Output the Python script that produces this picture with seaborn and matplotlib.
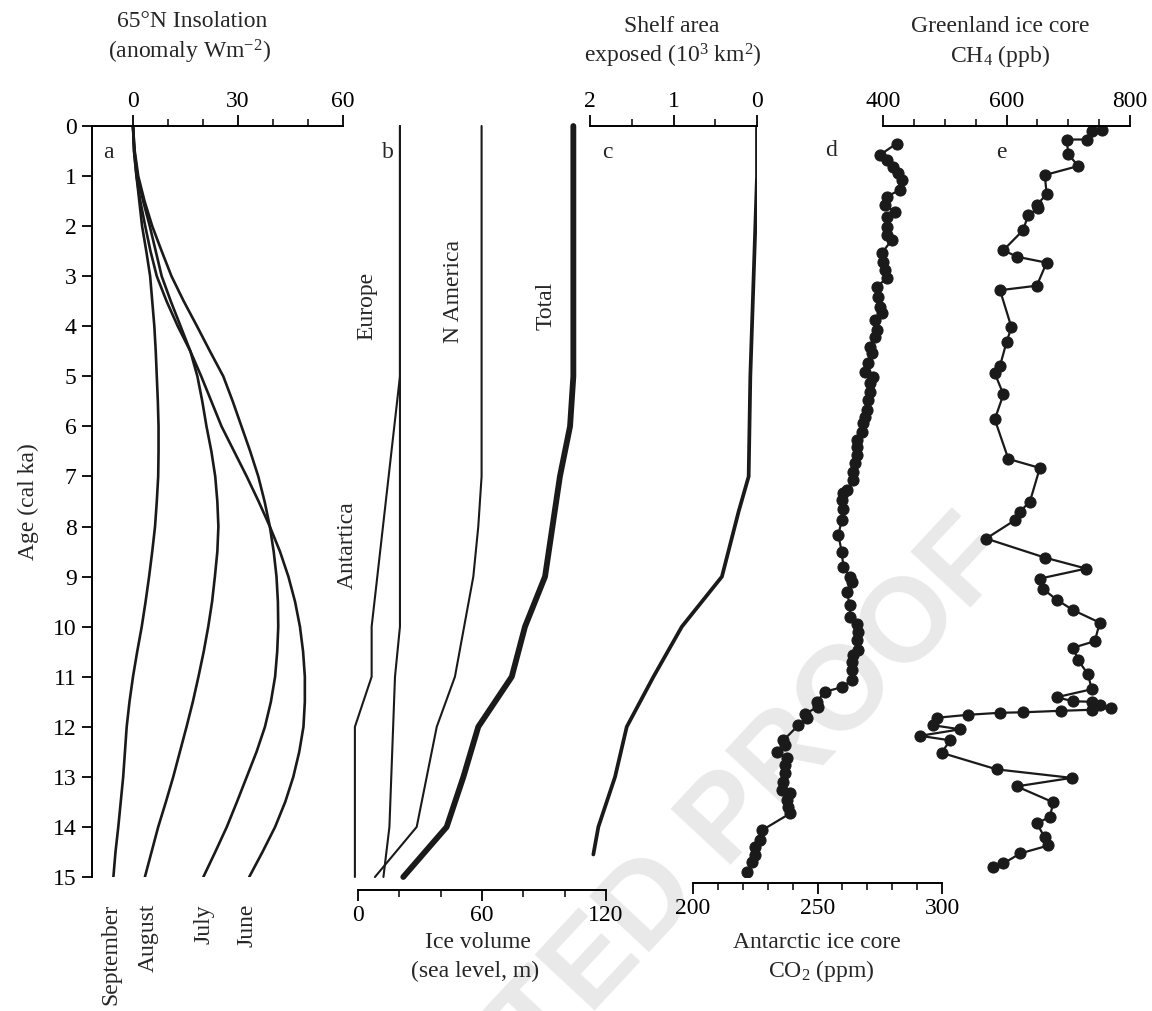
import matplotlib
matplotlib.use('Agg')
import matplotlib.pyplot as plt
import seaborn as sns
from matplotlib.ticker import FixedLocator

# ---- data ----
# panel a: 65N insolation anomaly (W m-2), every 0.5 ka
insol_age = [0, 0.5, 1, 1.5, 2, 2.5, 3, 3.5, 4, 4.5, 5, 5.5, 6, 6.5, 7, 7.5, 8, 8.5, 9, 9.5,
             10, 10.5, 11, 11.5, 12, 12.5, 13, 13.5, 14, 14.5, 15]
june = [0, 0.3, 1.0, 2.1, 3.5, 5.0, 6.8, 9.6, 12.8, 16.4, 19.5, 22.4, 25.3, 28.9, 32.5, 35.9,
        39.1, 42.0, 44.4, 46.3, 47.7, 48.6, 49.1, 49.1, 48.7, 47.5, 45.8, 43.5, 40.6, 37.0, 33.2]
july = [0, 0.5, 1.5, 3.3, 5.5, 8.2, 11.0, 14.5, 18.3, 22.0, 25.8, 28.5, 31.0, 33.5, 35.8, 37.6,
        39.1, 40.2, 41.0, 41.4, 41.5, 41.2, 40.6, 39.4, 37.7, 35.3, 32.5, 29.7, 26.8, 23.5, 20.1]
august = [0, 0.4, 1.3, 2.9, 4.8, 6.5, 8.2, 10.8, 13.6, 16.4, 18.4, 19.8, 21.0, 22.4, 23.5, 24.1,
          24.4, 24.1, 23.4, 22.6, 21.5, 20.2, 18.7, 17.1, 15.3, 13.4, 11.5, 9.4, 7.2, 5.3, 3.4]
september = [0, 0.3, 1.0, 1.8, 2.6, 3.8, 4.9, 5.5, 6.1, 6.5, 6.8, 7.1, 7.3, 7.3, 7.2, 6.8,
             6.3, 5.5, 4.6, 3.6, 2.5, 1.2, 0.0, -1.0, -1.8, -2.3, -2.8, -3.5, -4.2, -5.0, -5.6]
months = ['June', 'July', 'August', 'September']

# panel b: ice volume (sea level, m)
antarctica_age = [0, 5, 10, 11, 12, 15]
antarctica_vol = [20.3, 20.3, 6.6, 6.6, -1.5, -1.5]
europe_age = [0, 10, 11, 14, 15]
europe_vol = [20.3, 20.3, 17.9, 15.2, 12.3]
namerica_age = [0, 7, 8, 9, 11, 12, 14, 15]
namerica_vol = [59.8, 59.8, 58.2, 55.8, 46.9, 38.1, 28.4, 8.2]
total_age = [0, 5, 6, 7, 9, 10, 11, 12, 13, 14, 15]
total_vol = [104.2, 104.2, 102.6, 97.7, 90.5, 80.8, 74.4, 58.2, 51.0, 42.9, 21.9]

# panel c: shelf area exposed (10^3 km2)
shelf_age = [0, 1, 3, 5, 7, 7.7, 9, 10, 11, 12, 13, 14, 14.55]
shelf_area = [0, 0, 0.04, 0.08, 0.1, 0.22, 0.42, 0.9, 1.24, 1.56, 1.7, 1.9, 1.96]

# panel d: Antarctic CO2 (ppm)
co2_age = [0.35, 0.58, 0.68, 0.81, 0.94, 1.08, 1.28, 1.41, 1.58, 1.71, 1.81, 2.01, 2.18, 2.28,
           2.54, 2.71, 2.88, 3.04, 3.21, 3.41, 3.61, 3.74, 3.88, 4.08, 4.21, 4.41, 4.54, 4.74,
           4.91, 5.01, 5.14, 5.31, 5.47, 5.67, 5.81, 5.94, 6.11, 6.27, 6.41, 6.57, 6.74, 6.91,
           7.07, 7.27, 7.34, 7.47, 7.64, 7.87, 8.17, 8.5, 8.8, 9.0, 9.1, 9.3, 9.57, 9.8, 9.94,
           10.1, 10.27, 10.47, 10.57, 10.7, 10.87, 11.07, 11.21, 11.3, 11.5, 11.6, 11.74, 11.83,
           11.97, 12.27, 12.37, 12.5, 12.63, 12.77, 12.93, 13.1, 13.27, 13.33, 13.47, 13.6, 13.73,
           14.07, 14.27, 14.4, 14.57, 14.7, 14.9]
co2_ppm = [281.8, 275.0, 277.8, 280.4, 282.4, 283.8, 283.0, 277.8, 277.0, 281.0, 277.8, 278.0,
           277.8, 279.8, 275.8, 276.4, 277.0, 277.8, 273.8, 274.3, 275.0, 275.8, 273.0, 273.8,
           273.0, 271.0, 271.8, 270.4, 269.0, 272.4, 271.0, 271.0, 270.4, 269.8, 269.0, 268.4,
           267.8, 265.8, 265.8, 265.8, 265.0, 264.4, 264.4, 261.7, 260.4, 259.7, 260.4, 259.7,
           258.4, 259.7, 260.4, 263.0, 263.7, 261.7, 263.0, 263.0, 265.8, 266.4, 265.8, 266.4,
           264.4, 263.7, 263.7, 263.7, 259.7, 253.0, 249.7, 250.3, 245.0, 245.7, 242.3, 236.3,
           237.0, 233.6, 237.6, 237.0, 237.0, 236.3, 235.6, 239.0, 237.6, 238.3, 239.0, 227.6,
           226.9, 224.9, 224.9, 223.6, 221.6]

# panel e: Greenland CH4 (ppb)
ch4_age = [0.08, 0.09, 0.27, 0.27, 0.56, 0.8, 0.98, 1.36, 1.58, 1.64, 1.78, 2.08, 2.48, 2.61,
           2.73, 3.19, 3.28, 4.02, 4.32, 4.79, 4.94, 5.36, 5.86, 6.65, 6.83, 7.5, 7.7, 7.87,
           8.24, 8.62, 8.84, 9.04, 9.24, 9.46, 9.67, 9.92, 10.29, 10.42, 10.67, 10.95, 11.25,
           11.41, 11.49, 11.5, 11.56, 11.62, 11.66, 11.68, 11.71, 11.72, 11.76, 11.82, 11.97,
           12.05, 12.18, 12.27, 12.52, 12.85, 13.02, 13.19, 13.51, 13.8, 13.93, 14.21, 14.37,
           14.53, 14.73, 14.8]
ch4_ppb = [754, 738, 730, 697.5, 700, 716, 662, 665, 649, 651.5, 635, 627, 595, 616.5, 665,
           649, 589.5, 608, 600, 589.5, 581, 595, 581, 603, 654, 638, 622, 614, 567, 662, 729,
           654, 658.6, 681, 708, 751, 743, 708, 716, 732, 738, 681, 708, 738, 751, 770, 738,
           689, 627, 589.5, 538, 487, 481.5, 525, 460, 508.5, 495, 584, 705.6, 616.5, 676, 670,
           649, 662, 668, 622, 595, 578]

# ---- figure ----
W, H = 1152, 1011
sns.set_theme(style='ticks')
plt.rcParams['font.family'] = ['Liberation Serif', 'DejaVu Serif']
plt.rcParams['mathtext.fontset'] = 'custom'
plt.rcParams['mathtext.rm'] = 'Liberation Serif'
plt.rcParams['mathtext.it'] = 'Liberation Serif:italic'
FS = 17
INK = '#1a1a1a'


def box(x0, x1, y0=126, y1=877):
    return [x0 / W, 1 - y1 / H, (x1 - x0) / W, (y1 - y0) / H]


def fx(x):
    return x / W


def fy(y):
    return 1 - y / H


def style(ax, side, major, minor, pad):
    for s in ['top', 'bottom', 'left', 'right']:
        ax.spines[s].set_visible(s == side)
    ax.spines[side].set_linewidth(1.4)
    ax.spines[side].set_color('black')
    ax.patch.set_visible(False)
    if side == 'top':
        ax.xaxis.tick_top()
    else:
        ax.xaxis.tick_bottom()
    ax.xaxis.set_major_locator(FixedLocator(major))
    ax.xaxis.set_minor_locator(FixedLocator(minor))
    ax.tick_params(axis='x', which='major', direction='out', length=8, width=1.3,
                   labelsize=FS, pad=pad, colors='black')
    ax.tick_params(axis='x', which='minor', direction='out', length=5, width=1.1, colors='black')
    ax.set_ylim(15, 0)
    ax.set_xlabel('')
    ax.set_ylabel('')
    if ax is not ax_a:
        ax.yaxis.set_visible(False)


fig = plt.figure(figsize=(W / 100, H / 100), dpi=100)
# proof watermark behind everything
fig.text(fx(1015), fy(560), 'UNCORRECTED PROOF', fontsize=86, color='#e9e9e9',
         family='Liberation Sans', weight='bold', rotation=47, rotation_mode='anchor',
         ha='right', va='baseline', zorder=-5)

ax_a = fig.add_axes(box(92, 343))
ax_b = fig.add_axes(box(358, 606))
ax_c = fig.add_axes(box(590, 757))
ax_d = fig.add_axes(box(693, 942))
ax_e = fig.add_axes(box(883, 1130))

# a: insolation
for vals in [june, july, august, september]:
    sns.lineplot(x=vals, y=insol_age, sort=False, estimator=None, color=INK, lw=1.9, ax=ax_a)
ax_a.set_xlim(-11.71, 60)
style(ax_a, 'top', [0, 30, 60], [10, 20, 40, 50], 2)
ax_a.spines['left'].set_visible(True)
ax_a.spines['left'].set_linewidth(1.4)
ax_a.spines['left'].set_color('black')
ax_a.yaxis.set_major_locator(FixedLocator(range(16)))
ax_a.tick_params(axis='y', direction='out', length=7, width=1.3, labelsize=FS, pad=4, colors='black')
ax_a.set_ylabel('Age (cal ka)', fontsize=FS, labelpad=10)
for name, xpix in zip(months, [247, 204, 148, 111]):
    fig.text(fx(xpix), fy(904), name, rotation=90, ha='center', va='top', fontsize=FS)
ax_a.text(0.045, 0.965, 'a', transform=ax_a.transAxes, fontsize=FS, va='center')

# b: ice volume
for vol, age, lw in [(antarctica_vol, antarctica_age, 1.5), (europe_vol, europe_age, 1.5),
                     (namerica_vol, namerica_age, 1.5), (total_vol, total_age, 4.2)]:
    sns.lineplot(x=vol, y=age, sort=False, estimator=None, color=INK, lw=lw, clip_on=False, ax=ax_b)
ax_b.set_xlim(0, 120)
style(ax_b, 'bottom', [0, 60, 120], [20, 40, 80, 100], 3)
ax_b.spines['bottom'].set_position(('outward', 9))
for lab, xv, yv in [('Antartica', -5.3, 8.37), ('Europe', 4.4, 3.6),
                    ('N America', 46, 3.3), ('Total', 91, 3.6)]:
    ax_b.text(xv, yv, lab, rotation=90, ha='center', va='center', fontsize=FS, clip_on=False)
ax_b.text(0.095, 0.965, 'b', transform=ax_b.transAxes, fontsize=FS, va='center')

# c: shelf area
sns.lineplot(x=shelf_area, y=shelf_age, sort=False, estimator=None, color=INK, lw=2.7, ax=ax_c)
ax_c.set_xlim(2, 0)
style(ax_c, 'top', [2, 1, 0], [1.5, 0.5], 2)
ax_c.text(0.075, 0.965, 'c', transform=ax_c.transAxes, fontsize=FS, va='center')

# d: CO2
sns.lineplot(x=co2_ppm, y=co2_age, sort=False, estimator=None, color=INK, lw=1.6,
             marker='o', markersize=8, markeredgecolor=INK, ax=ax_d)
ax_d.set_xlim(200, 300)
style(ax_d, 'bottom', [200, 250, 300], [210, 220, 230, 240, 260, 270, 280, 290], 3)
ax_d.spines['bottom'].set_position(('outward', 4))
fig.text(fx(825), fy(150), 'd', fontsize=FS, va='center')

# e: CH4
sns.lineplot(x=ch4_ppb, y=ch4_age, sort=False, estimator=None, color=INK, lw=1.6,
             marker='o', markersize=8, markeredgecolor=INK, ax=ax_e)
ax_e.set_xlim(400, 800)
style(ax_e, 'top', [400, 600, 800], [450, 500, 550, 650, 700, 750], 2)
ax_e.text(0.46, 0.965, 'e', transform=ax_e.transAxes, fontsize=FS, va='center')

# axis titles
fig.text(fx(192), fy(27), '65°N Insolation', fontsize=FS, ha='center', va='baseline')
fig.text(fx(190), fy(58), '(anomaly Wm$^{-2}$)', fontsize=FS, ha='center', va='baseline')
fig.text(fx(672), fy(32), 'Shelf area', fontsize=FS, ha='center', va='baseline')
fig.text(fx(673), fy(63), 'exposed (10$^{3}$ km$^{2}$)', fontsize=FS, ha='center', va='baseline')
fig.text(fx(1000), fy(32), 'Greenland ice core', fontsize=FS, ha='center', va='baseline')
fig.text(fx(1000), fy(62), 'CH$_{4}$ (ppb)', fontsize=FS, ha='center', va='baseline')
fig.text(fx(478), fy(948), 'Ice volume', fontsize=FS, ha='center', va='baseline')
fig.text(fx(475), fy(977), '(sea level, m)', fontsize=FS, ha='center', va='baseline')
fig.text(fx(817), fy(948), 'Antarctic ice core', fontsize=FS, ha='center', va='baseline')
fig.text(fx(821), fy(977), 'CO$_{2}$ (ppm)', fontsize=FS, ha='center', va='baseline')

fig.savefig('out.png', dpi=100)
